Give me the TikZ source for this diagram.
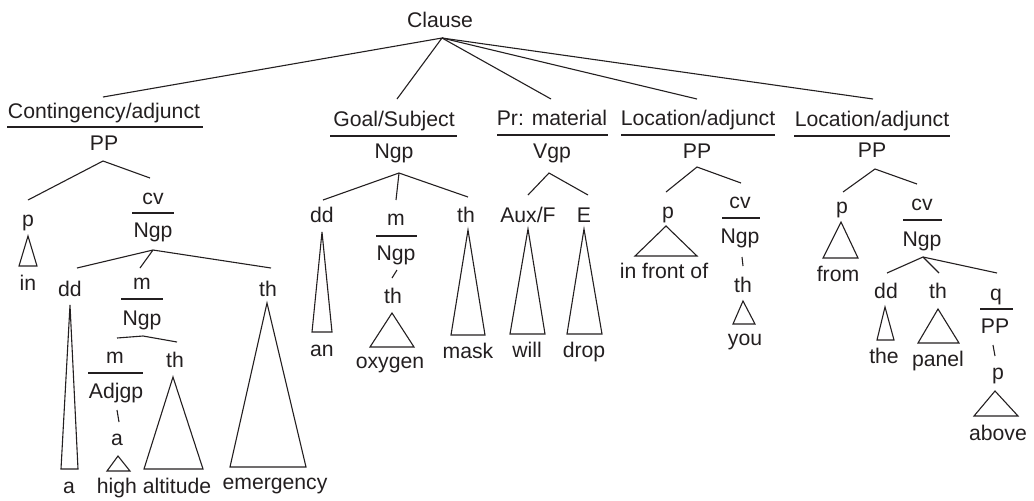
\documentclass[tikz,border=0pt]{standalone}
\usepackage{fontspec}
\setmainfont{Liberation Sans}
\definecolor{ink}{RGB}{35,31,32}
\newcommand\labfont{\fontsize{10.6}{12}\selectfont}
\begin{document}
\begin{tikzpicture}[x=0.5pt,y=-0.5pt,
  lbl/.style={anchor=base,inner sep=0pt,font=\labfont,text=ink},
  edge/.style={draw=ink,line width=0.55pt},
  rule/.style={draw=ink,line width=0.55pt},
  tri/.style={draw=ink,line width=0.55pt,line join=miter}]
\useasboundingbox (0,0) rectangle (1034,500);

% ---------- top ----------
\node[lbl] (clause) at (440,27) {Clause};
\coordinate (cA) at (442,38);
\coordinate (e1) at (103,97);
\coordinate (e2) at (397,99);
\coordinate (e3) at (551,99);
\coordinate (e4) at (697,99);
\coordinate (e5) at (873,99);
\draw[edge] (e1) -- (cA) -- (e2);
\draw[edge] (cA) -- (e3);
\draw[edge] (cA) -- (e4);
\draw[edge] (cA) -- (e5);

% ---------- Contingency/adjunct ----------
\node[lbl] (cont) at (104,118) {Contingency/adjunct};
\draw[rule] (7,127) -- (203,127);
\node[lbl] (pp1) at (104,150) {PP};
\coordinate (pp1A) at (103,161);
\coordinate (pp1L) at (28,200);
\coordinate (pp1R) at (150,178);
\draw[edge] (pp1L) -- (pp1A) -- (pp1R);
\node[lbl] (p1) at (28,226) {p};
\draw[tri] (19,266) -- (28,236) -- (37,266) -- cycle;
\node[lbl] (in) at (28,290) {in};
\node[lbl] (cv1) at (153,204) {cv};
\draw[rule] (132,213) -- (174,213);
\node[lbl] (ngp1) at (153,237) {Ngp};
\coordinate (n1A) at (153,250);
\coordinate (n1a) at (77,268);
\coordinate (n1b) at (140,268);
\coordinate (n1c) at (271,268);
\draw[edge] (n1a) -- (n1A) -- (n1c);
\draw[edge] (n1A) -- (n1b);
\node[lbl] (dd1) at (70,296) {dd};
\draw[tri] (61,469) -- (70,305) -- (78,469) -- cycle;
\node[lbl] (a1) at (69,493) {a};
\node[lbl] (m1) at (142,289) {m};
\draw[rule] (121,299) -- (163,299);
\node[lbl] (ngp2) at (142,325) {Ngp};
\coordinate (n2A) at (143,336);
\coordinate (n2a) at (117,338);
\coordinate (n2b) at (177,342);
\draw[edge] (n2a) -- (n2A) -- (n2b);
\node[lbl] (m2) at (115,363) {m};
\draw[rule] (88,373) -- (143,373);
\node[lbl] (adjgp) at (116,398) {Adjgp};
\coordinate (adjT) at (117,410);
\coordinate (adjB) at (119,422);
\draw[edge] (adjT) -- (adjB);
\node[lbl] (a2) at (117,445) {a};
\draw[tri] (107,471) -- (118,456) -- (130,471) -- cycle;
\node[lbl] (high) at (117,493) {high};
\node[lbl] (th1) at (175,367) {th};
\draw[tri] (144,469) -- (173,377) -- (203,469) -- cycle;
\node[lbl] (altitude) at (177,493) {altitude};
\node[lbl] (th2) at (268,296) {th};
\draw[tri] (230,467) -- (267,303) -- (306,467) -- cycle;
\node[lbl] (emergency) at (275,489) {emergency};

% ---------- Goal/Subject ----------
\node[lbl] (goal) at (394,126) {Goal/Subject};
\draw[rule] (330,136) -- (457,136);
\node[lbl] (ngp3) at (394,158) {Ngp};
\coordinate (n3A) at (399,173);
\coordinate (n3a) at (323,200);
\coordinate (n3b) at (396,200);
\coordinate (n3c) at (468,197);
\draw[edge] (n3a) -- (n3A) -- (n3c);
\draw[edge] (n3A) -- (n3b);
\node[lbl] (dd2) at (322,222) {dd};
\draw[tri] (312,332) -- (322,232) -- (332,332) -- cycle;
\node[lbl] (an) at (322,356) {an};
\node[lbl] (m3) at (396,225) {m};
\draw[rule] (376,236) -- (417,236);
\node[lbl] (ngp4) at (396,260) {Ngp};
\coordinate (n4T) at (397,270);
\coordinate (n4B) at (392,278);
\draw[edge] (n4T) -- (n4B);
\node[lbl] (th3) at (393,303) {th};
\draw[tri] (370,347) -- (392,313) -- (414,347) -- cycle;
\node[lbl] (oxygen) at (390,368) {oxygen};
\node[lbl] (th4) at (466,222) {th};
\draw[tri] (451,335) -- (468,230) -- (485,335) -- cycle;
\node[lbl] (mask) at (468,358) {mask};

% ---------- Pr: material ----------
\node[lbl] (pr) at (552,125) {Pr: material};
\draw[rule] (497,135) -- (608,135);
\node[lbl] (vgp) at (552,158) {Vgp};
\coordinate (vA) at (549,173);
\coordinate (va) at (528,195);
\coordinate (vb) at (588,195);
\draw[edge] (va) -- (vA) -- (vb);
\node[lbl] (aux) at (528,222) {Aux/F};
\draw[tri] (510,334) -- (528,229) -- (545,334) -- cycle;
\node[lbl] (will) at (527,357) {will};
\node[lbl] (E) at (584,222) {E};
\draw[tri] (567,334) -- (584,229) -- (602,334) -- cycle;
\node[lbl] (drop) at (584,357) {drop};

% ---------- Location/adjunct 1 ----------
\node[lbl] (loc1) at (698,125) {Location/adjunct};
\draw[rule] (621,135) -- (775,135);
\node[lbl] (pp2) at (697,158) {PP};
\coordinate (pp2A) at (697,167);
\coordinate (pp2L) at (666,192);
\coordinate (pp2R) at (741,183);
\draw[edge] (pp2L) -- (pp2A) -- (pp2R);
\node[lbl] (p2) at (668,218) {p};
\draw[tri] (635,256) -- (666,226) -- (697,256) -- cycle;
\node[lbl] (infront) at (664,278) {in front of};
\node[lbl] (cv2) at (740,208) {cv};
\draw[rule] (722,218) -- (760,218);
\node[lbl] (ngp5) at (740,243) {Ngp};
\coordinate (n5T) at (742,257);
\coordinate (n5B) at (743,266);
\draw[edge] (n5T) -- (n5B);
\node[lbl] (th5) at (743,292) {th};
\draw[tri] (733,324) -- (743,301) -- (755,324) -- cycle;
\node[lbl] (you) at (745,345) {you};

% ---------- Location/adjunct 2 ----------
\node[lbl] (loc2) at (872,126) {Location/adjunct};
\draw[rule] (794,136) -- (950,136);
\node[lbl] (pp3) at (872,157) {PP};
\coordinate (pp3A) at (875,169);
\coordinate (pp3L) at (843,192);
\coordinate (pp3R) at (917,184);
\draw[edge] (pp3L) -- (pp3A) -- (pp3R);
\node[lbl] (p3) at (842,213) {p};
\draw[tri] (823,258) -- (841,222) -- (858,258) -- cycle;
\node[lbl] (from) at (838,281) {from};
\node[lbl] (cv3) at (922,210) {cv};
\draw[rule] (903,220) -- (942,220);
\node[lbl] (ngp6) at (922,246) {Ngp};
\coordinate (n6A) at (923,257);
\coordinate (n6a) at (887,273);
\coordinate (n6b) at (939,273);
\coordinate (n6c) at (997,273);
\draw[edge] (n6a) -- (n6A) -- (n6c);
\draw[edge] (n6A) -- (n6b);
\node[lbl] (dd3) at (886,298) {dd};
\draw[tri] (877,340) -- (885,307) -- (894,340) -- cycle;
\node[lbl] (the) at (884,363) {the};
\node[lbl] (th6) at (938,298) {th};
\draw[tri] (918,343) -- (938,309) -- (959,343) -- cycle;
\node[lbl] (panel) at (938,366) {panel};
\node[lbl] (q) at (996,300) {q};
\draw[rule] (980,309) -- (1013,309);
\node[lbl] (pp4) at (995,333) {PP};
\coordinate (p4T) at (993,345);
\coordinate (p4B) at (995,356);
\draw[edge] (p4T) -- (p4B);
\node[lbl] (p4) at (998,379) {p};
\draw[tri] (974,416) -- (995,391) -- (1018,416) -- cycle;
\node[lbl] (above) at (998,440) {above};
\end{tikzpicture}
\end{document}
